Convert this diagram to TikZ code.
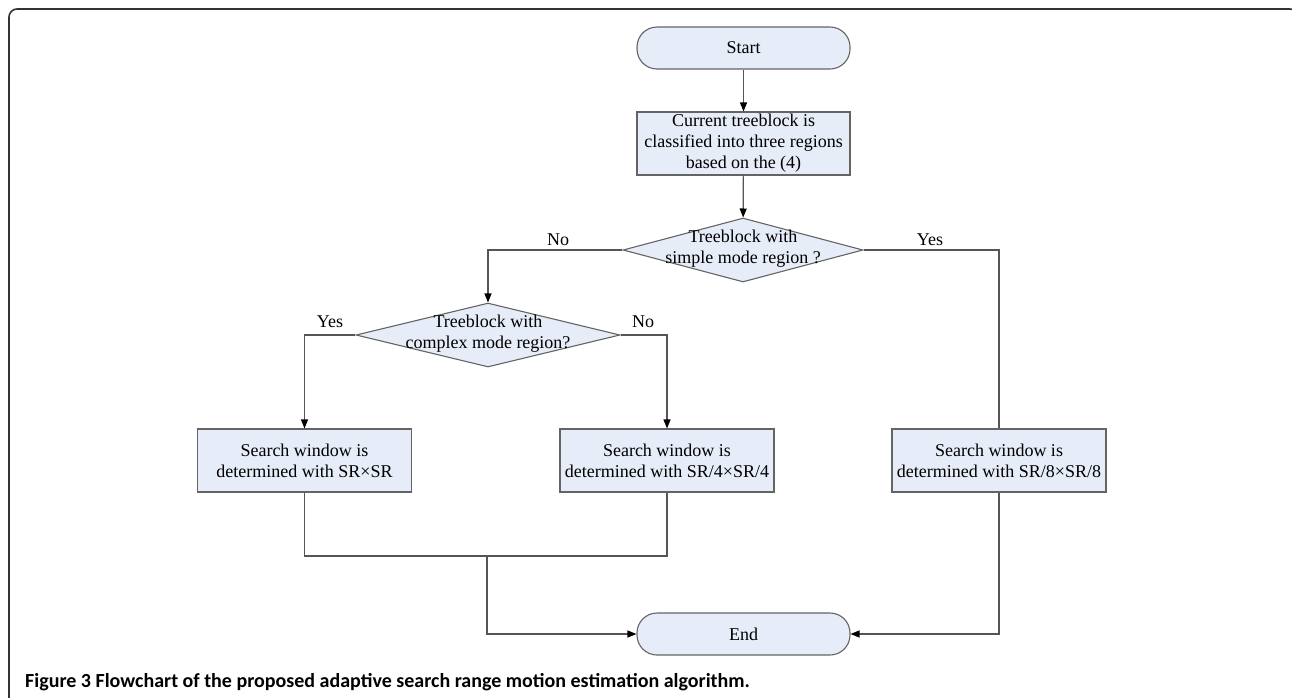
\documentclass[tikz,border=0pt]{standalone}
\usepackage{fontspec}
\setmainfont{Liberation Serif}
\newfontfamily\capfont{Carlito}
\usetikzlibrary{shapes.geometric,arrows.meta}
\definecolor{boxfill}{RGB}{230,236,248}
\definecolor{boxline}{RGB}{100,100,100}
\definecolor{conn}{RGB}{85,85,85}
\tikzset{
  base/.style={draw=boxline,fill=boxfill,line width=1.1pt,inner sep=0pt,align=center,
    font=\fontsize{18}{21}\selectfont},
  pill/.style={base,rectangle,rounded corners=20pt,minimum width=213pt,minimum height=42pt},
  procbox/.style={base,rectangle,minimum width=214pt,minimum height=63pt},
  dia/.style={base,diamond,minimum width=#1,minimum height=64pt},
  txt/.style={align=center,inner sep=0pt,font=\fontsize{18}{21}\selectfont},
  conn/.style={draw=conn,line width=1.2pt},
  arr/.style={conn,-{Triangle[length=9pt,width=7pt,black]}},
}
\begin{document}
\begin{tikzpicture}[x=1pt,y=-1pt]
\useasboundingbox (0,0) rectangle (1292,697);
\draw[line width=1.6pt,color=black!80,rounded corners=8pt] (9,705) -- (9,9) -- (1298,9) -- (1298,705);

\node[pill] (start) at (743.5,48) {Start};
\node[procbox,minimum width=213pt] (b1) at (743.5,143.5) {Current treeblock is\\classified into three regions\\based on the (4)};
\node[dia=240pt] (d1) at (743,250) {};
\node[txt] (d1t) at (743,249) {Treeblock with\\simple mode region ?};
\node[dia=264pt] (d2) at (488,335) {};
\node[txt] (d2t) at (488,334) {Treeblock with\\complex mode region?};
\node[procbox] (b3) at (304.5,460.5) {Search window is\\determined with SR×SR};
\node[procbox] (b4) at (667,460.5) {Search window is\\determined with SR/4×SR/4};
\node[procbox] (b5) at (999,460.5) {Search window is\\determined with SR/8×SR/8};
\node[pill] (end) at (743.5,634) {End};
\coordinate (m) at (487,556);

\draw[arr] (start) -- (b1);
\draw[arr] (b1) -- (d1);
\draw[arr] (d1.west) -| (d2.north);
\draw[conn] (d1.east) -| (b5.north);
\draw[arr] (d2.west) -| (b3.north);
\draw[arr] (d2.east) -| (b4.north);
\draw[conn] (b3.south) |- (m) -| (b4.south);
\draw[arr] (m) |- (end.west);
\draw[arr] (b5.south) |- (end.east);

\node[txt] (l1) at (558,240) {No};
\node[txt] (l2) at (930,240) {Yes};
\node[txt] (l3) at (330,322) {Yes};
\node[txt] (l4) at (643,322) {No};

\node[anchor=base west,inner sep=0pt,font=\capfont\bfseries\fontsize{20}{22}\selectfont] (cap) at (25,687)
  {Figure 3 Flowchart of the proposed adaptive search range motion estimation algorithm.};
\end{tikzpicture}
\end{document}
